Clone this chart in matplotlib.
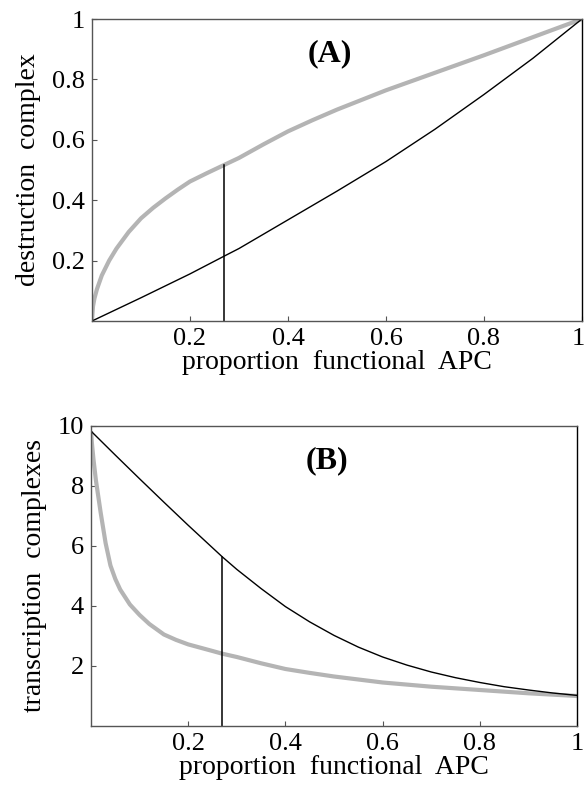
import matplotlib
matplotlib.use("Agg")
import matplotlib.pyplot as plt
import matplotlib.transforms as mtransforms

plt.rcParams['font.family'] = ['Liberation Serif', 'DejaVu Serif']

# panel A: destruction complex vs proportion functional APC
a_gray_x = [0, 0.002, 0.005, 0.01, 0.02, 0.035, 0.05, 0.075, 0.1, 0.125, 0.15, 0.175,
            0.2, 0.235, 0.27, 0.3, 0.35, 0.4, 0.45, 0.5, 0.6, 0.7, 0.8, 0.9, 1.0]
a_gray_y = [0, 0.048, 0.075, 0.105, 0.151, 0.2, 0.24, 0.295, 0.34, 0.375, 0.406, 0.435,
            0.462, 0.49, 0.517, 0.54, 0.585, 0.628, 0.665, 0.70, 0.764, 0.822, 0.88, 0.94, 1.0]
a_black_x = [0, 0.1, 0.2, 0.27, 0.3, 0.4, 0.5, 0.6, 0.7, 0.8, 0.9, 1.0]
a_black_y = [0, 0.077, 0.156, 0.215, 0.24, 0.335, 0.43, 0.528, 0.635, 0.75, 0.87, 1.0]
a_marker = (0.27, 0.517)

# panel B: transcription complexes
b_gray_x = [0, 0.002, 0.005, 0.01, 0.02, 0.03, 0.04, 0.05, 0.06, 0.08, 0.1, 0.12, 0.15,
            0.175, 0.2, 0.25, 0.27, 0.3, 0.35, 0.4, 0.45, 0.5, 0.6, 0.7, 0.8, 0.9, 1.0]
b_gray_y = [9.83, 9.4, 8.9, 8.2, 7.1, 6.1, 5.35, 4.9, 4.55, 4.05, 3.7, 3.4, 3.05,
            2.87, 2.72, 2.5, 2.41, 2.3, 2.09, 1.9, 1.77, 1.65, 1.45, 1.31, 1.2, 1.09, 1.0]
b_black_x = [0, 0.05, 0.1, 0.15, 0.2, 0.27, 0.3, 0.35, 0.4, 0.45, 0.5, 0.55, 0.6, 0.65,
             0.7, 0.75, 0.8, 0.85, 0.9, 0.95, 1.0]
b_black_y = [9.83, 9.03, 8.24, 7.46, 6.69, 5.64, 5.22, 4.58, 3.98, 3.47, 3.02, 2.63, 2.3, 2.03,
             1.8, 1.61, 1.45, 1.31, 1.2, 1.1, 1.02]
b_marker = (0.27, 5.64)

xticks = [0.2, 0.4, 0.6, 0.8, 1.0]
xticklabels = ["0.2", "0.4", "0.6", "0.8", "1"]
a_yticks = [0.2, 0.4, 0.6, 0.8, 1.0]
a_yticklabels = ["0.2", "0.4", "0.6", "0.8", "1"]
b_yticks = [2, 4, 6, 8, 10]
b_yticklabels = ["2", "4", "6", "8", "10"]

fig = plt.figure(figsize=(5.86, 7.93), dpi=100)
axA = fig.add_axes([0.157, 0.5952, 0.836, 0.3808])
axB = fig.add_axes([0.1553, 0.0845, 0.8294, 0.3783])

gray = '#b4b4b4'


def style(ax, ymax, yticks, yticklabels, ylabel, tag):
    ax.set_xlim(0, 1)
    ax.set_ylim(0, ymax)
    ax.set_xticks(xticks)
    ax.set_xticklabels(xticklabels)
    ax.set_yticks(yticks)
    ax.set_yticklabels(yticklabels)
    ax.tick_params(direction='in', length=3.5, width=0.8, color='#555555',
                   labelsize=19, pad=5)
    ax.set_xlabel("proportion  functional  APC", fontsize=20, labelpad=0)
    ax.set_ylabel(ylabel, fontsize=20, labelpad=8)
    for side in ['left', 'top', 'bottom']:
        ax.spines[side].set_color('#555555')
    ax.spines['right'].set_color('black')
    for s in ax.spines.values():
        s.set_linewidth(1.0)
    ax.text(0.485, 0.885, tag, transform=ax.transAxes, fontsize=23,
            fontweight='bold', ha='center', va='center')


axA.plot(a_gray_x, a_gray_y, color=gray, lw=3.0, solid_capstyle='butt')
axA.plot(a_black_x, a_black_y, color='black', lw=1.0)
axA.plot([a_marker[0], a_marker[0]], [0, a_marker[1]], color='black', lw=1.1)
style(axA, 1.0, a_yticks, a_yticklabels, "destruction  complex", "(A)")

axB.plot(b_gray_x, b_gray_y, color=gray, lw=3.0, solid_capstyle='butt')
axB.plot(b_black_x, b_black_y, color='black', lw=1.0)
axB.plot([b_marker[0], b_marker[0]], [0, b_marker[1]], color='black', lw=1.1)
style(axB, 10, b_yticks, b_yticklabels, "transcription  complexes", "(B)")

# keep the last x label of panel A inside the figure edge
last = axA.get_xticklabels()[-1]
last.set_transform(last.get_transform() +
                   mtransforms.ScaledTranslation(-4 / 100, 0, fig.dpi_scale_trans))

fig.savefig("out.png", dpi=100)
